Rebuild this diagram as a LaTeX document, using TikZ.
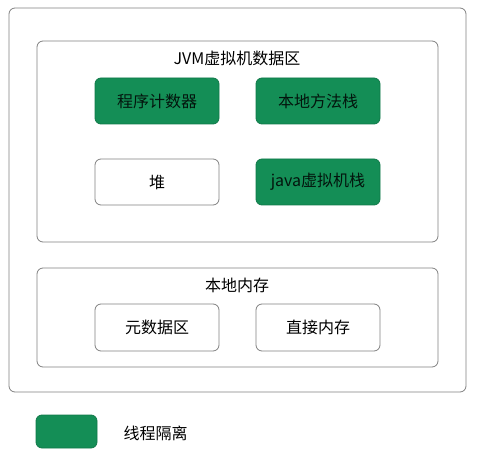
\documentclass[tikz,border=0pt]{standalone}
\usepackage{fontspec}
\setmainfont{Noto Sans CJK SC}
\definecolor{qgreen}{RGB}{20,142,86}
\definecolor{qline}{RGB}{128,128,128}
\tikzset{
	area/.style={draw=qline, line width=0.8pt, rounded corners=6pt},
	label/.style={font=\fontsize{16}{19}\selectfont},
	cell/.style={area, label, minimum width=124pt, minimum height=46pt},
	private/.style={cell, fill=qgreen, draw=qgreen!85!black, text=black!85!qgreen},
}
\begin{document}
\begin{tikzpicture}[x=1pt, y=-1pt]
	\useasboundingbox (0, 0) rectangle (477, 457);
	\draw[area] (9, 8) rectangle (466, 392);
	\draw[area] (37, 41) rectangle (438, 242);
	\draw[area] (37, 268) rectangle (438, 367);

	\node[label] (jvmtitle) at (237, 58) {JVM虚拟机数据区};
	\node[private] (pc) at (157, 101) {程序计数器};
	\node[private] (native) at (318, 101) {本地方法栈};
	\node[cell] (heap) at (157, 182) {堆};
	\node[private] (jstack) at (318, 182) {java虚拟机栈};

	\node[label] (localtitle) at (237, 285) {本地内存};
	\node[cell, minimum height=47pt] (meta) at (157, 327.5) {元数据区};
	\node[cell, minimum height=47pt] (direct) at (318, 327.5) {直接内存};

	\node[private, minimum width=61pt, minimum height=33pt] (key) at (66.5, 431.5) {};
	\node[label, right] (keytext) at (120, 433) {线程隔离};
\end{tikzpicture}
\end{document}
